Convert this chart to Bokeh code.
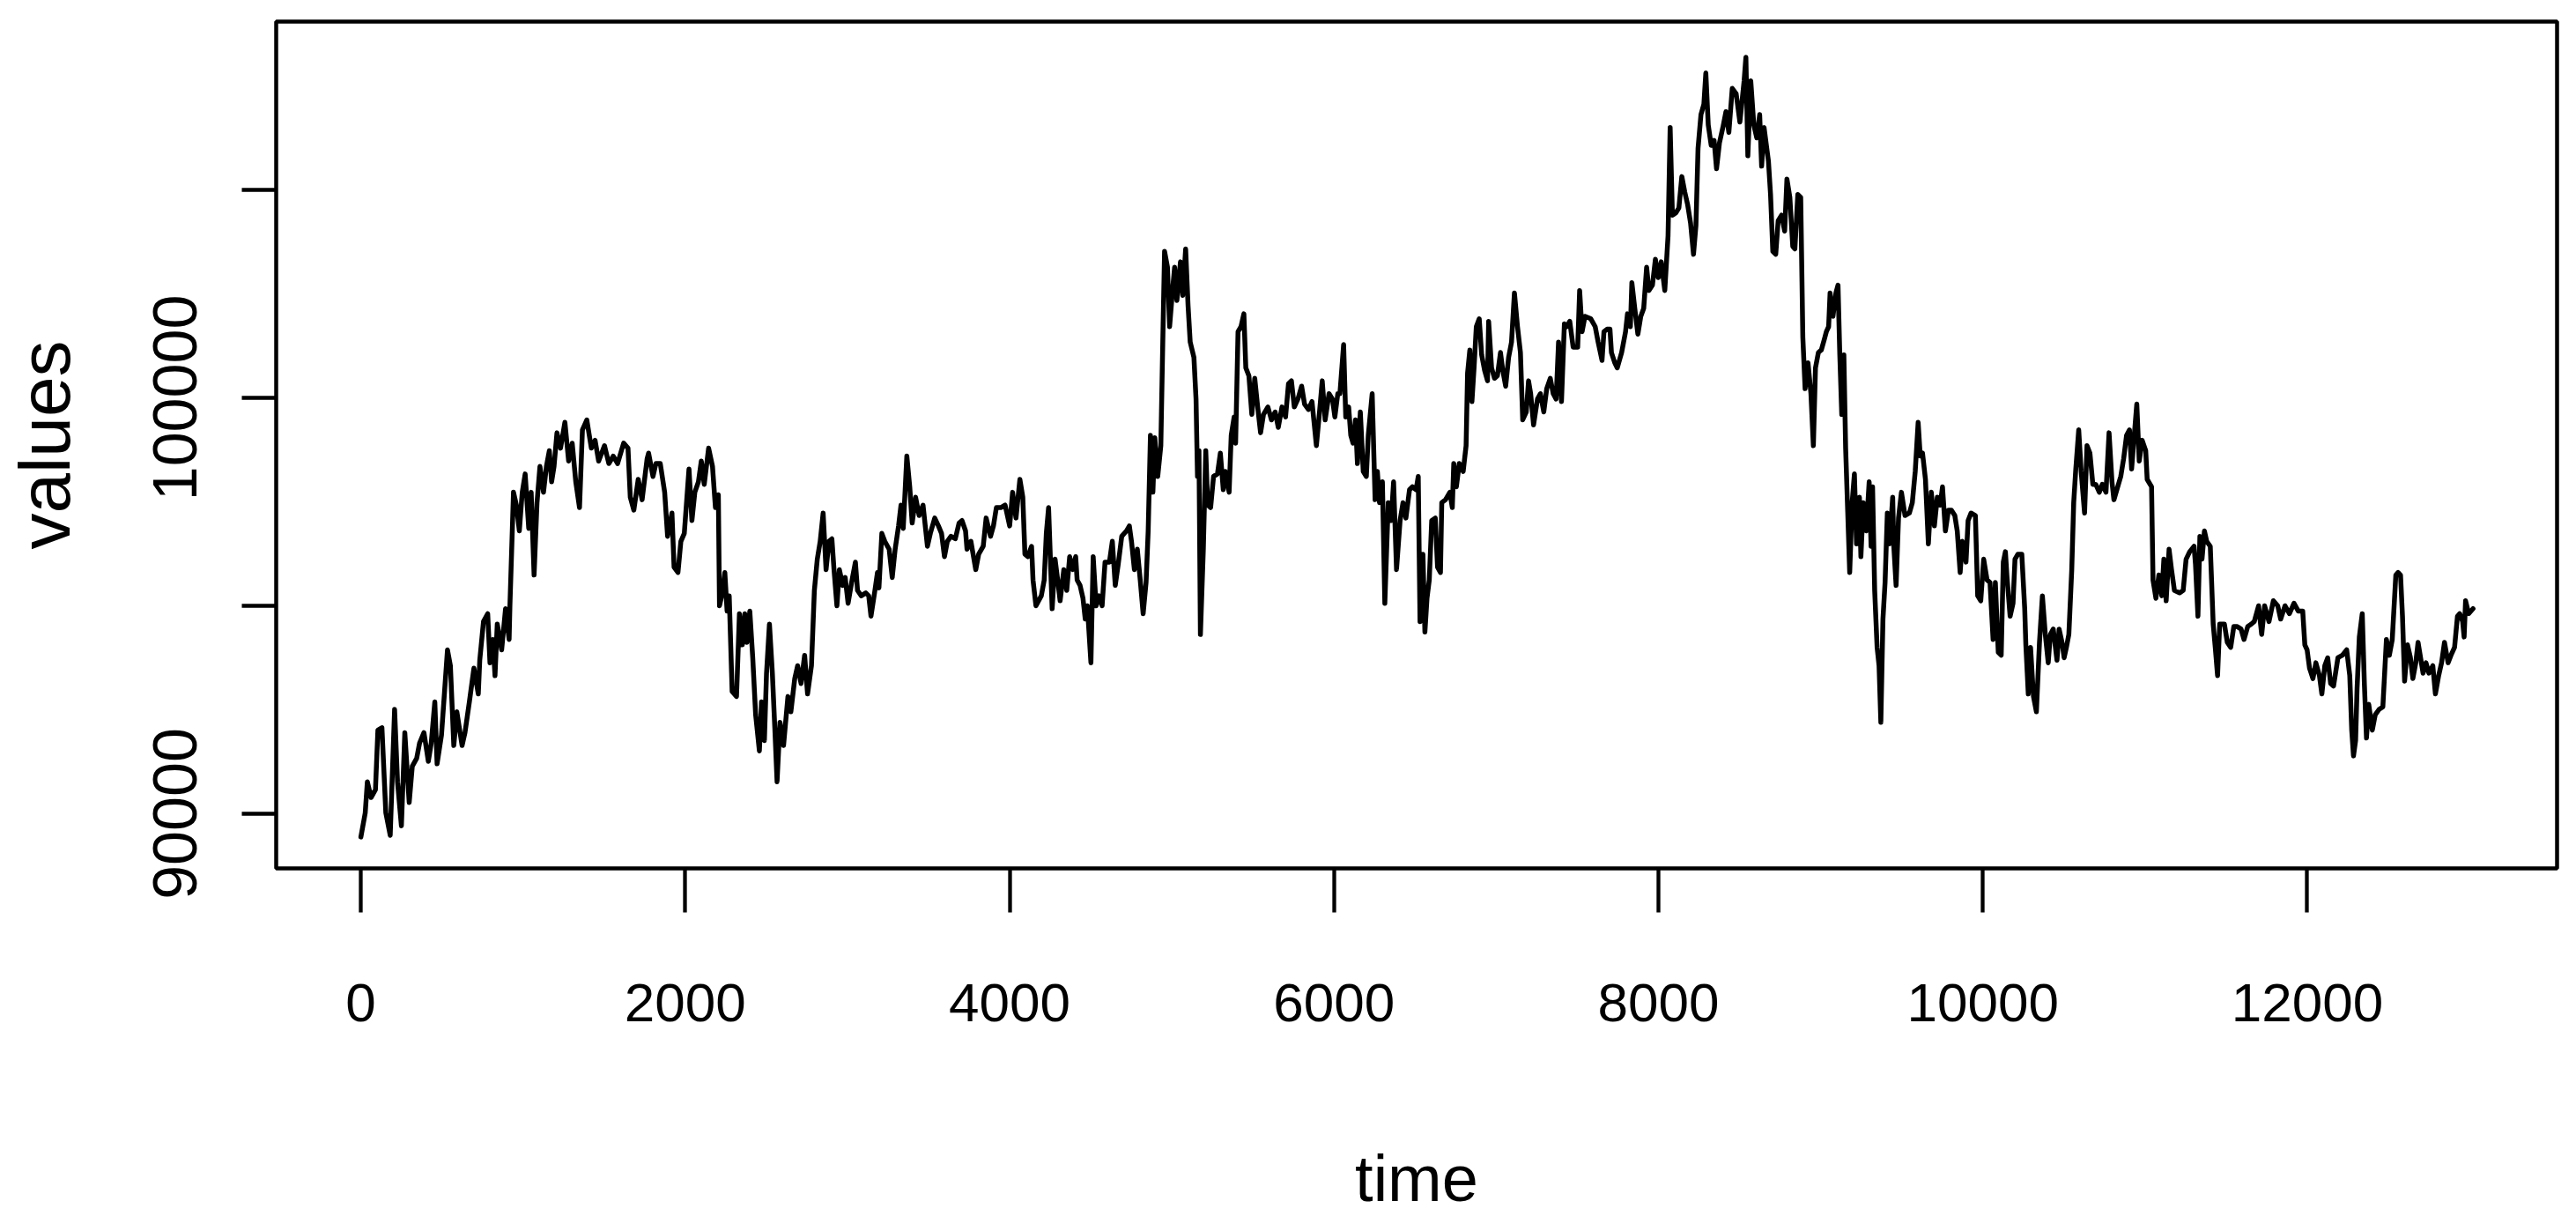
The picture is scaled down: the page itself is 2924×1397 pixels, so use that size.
from bokeh.plotting import figure
from bokeh.models import Range1d, FixedTicker
from bokeh.embed import file_html
from bokeh.resources import INLINE

# ---- data (time, value) ----
time_a = [0, 27, 40, 63, 90, 105, 130, 154, 181, 208,
          226, 250, 271, 298, 317, 344, 362, 389, 416, 434,
          456, 470, 497, 516, 534, 552, 573, 592, 624, 642,
          669, 697, 724, 733, 756, 782, 796, 814, 827, 841,
          868, 892, 914, 919, 932, 941, 959, 977, 995, 1013,
          1035, 1050, 1068, 1086, 1104, 1126, 1144, 1162, 1176, 1191,
          1209, 1231, 1258, 1281, 1303, 1325, 1348, 1366, 1393, 1421,
          1444, 1466, 1502, 1529, 1556, 1583, 1620, 1647, 1661, 1683,
          1710, 1734, 1765, 1774, 1801, 1819, 1846, 1873, 1891, 1918,
          1931, 1955, 1973, 1994, 2023, 2041, 2059, 2081]
value_a = [89440, 90020, 90770, 90390, 90580, 92010, 92070, 90020, 89480, 92510,
           90770, 89710, 91950, 90270, 91140, 91330, 91700, 91950, 91260, 91700,
           92690, 91200, 91890, 92940, 93940, 93560, 91640, 92450, 91640, 91950,
           92690, 93500, 92880, 93690, 94620, 94810, 93630, 94190, 93320, 94560,
           93940, 94930, 94190, 95000, 96610, 97730, 97420, 96800, 97730, 98170,
           96860, 97730, 95740, 97480, 98350, 97730, 98350, 98730, 97980, 98350,
           99160, 98790, 99410, 98480, 98910, 97980, 97360, 99230, 99470, 98790,
           98980, 98480, 98850, 98420, 98600, 98420, 98910, 98790, 97610, 97300,
           98040, 97550, 98540, 98670, 98110, 98420, 98420, 97730, 96670, 97230,
           95930, 95800, 96550, 96740, 98290, 97050, 97730, 97980]

time_b = [2099, 2117, 2144, 2168, 2186, 2204, 2211, 2229, 2244, 2258,
          2271, 2289, 2316, 2334, 2352, 2367, 2380, 2398, 2416, 2434,
          2457, 2470, 2488, 2501, 2519, 2537, 2552, 2566, 2584, 2606,
          2633, 2651, 2675, 2693, 2714, 2736, 2754, 2778, 2796, 2814,
          2832, 2850, 2868, 2886, 2904, 2917, 2935, 2950, 2971, 2986,
          3004, 3031, 3049, 3062, 3085, 3113, 3131, 3145, 3167, 3185,
          3194, 3212, 3230, 3257, 3276, 3294, 3315, 3330, 3344, 3366,
          3384, 3399, 3420, 3442, 3466, 3493, 3511, 3538, 3561, 3580,
          3598, 3616, 3638, 3665, 3688, 3706, 3728, 3737, 3761, 3791,
          3809, 3837, 3855, 3882, 3900, 3918, 3945, 3972, 4000, 4018,
          4039, 4063, 4081, 4094, 4112, 4135, 4144, 4162, 4195, 4213,
          4226, 4240, 4262, 4280, 4298, 4311]
value_b = [98480, 97920, 98790, 98350, 97360, 97670, 95000, 95310, 95800, 94870,
           95240, 92940, 92820, 94810, 94060, 94810, 94120, 94870, 93750, 92380,
           91510, 92690, 91760, 93380, 94560, 93380, 92070, 90770, 92200, 91640,
           92820, 92450, 93250, 93560, 93130, 93810, 92880, 93560, 95370, 96120,
           96550, 97230, 95870, 96550, 96610, 95870, 95000, 95870, 95490, 95680,
           95060, 95680, 96050, 95370, 95240, 95310, 95240, 94750, 95310, 95800,
           95430, 96740, 96550, 96360, 95680, 96360, 96920, 97420, 96860, 98600,
           97860, 96990, 97610, 97170, 97420, 96430, 96740, 97110, 96920, 96740,
           96180, 96550, 96670, 96610, 96990, 97050, 96800, 96360, 96550, 95870,
           96240, 96430, 97110, 96670, 96920, 97360, 97360, 97420, 96920, 97730,
           97110, 98040, 97610, 96240, 96180, 96430, 95620, 95000, 95240, 95620,
           96740, 97360, 94930, 96120, 95560, 95120]

time_c = [4334, 4352, 4370, 4389, 4407, 4416, 4434, 4452, 4466, 4479,
          4501, 4515, 4533, 4551, 4570, 4588, 4615, 4633, 4651, 4669,
          4691, 4720, 4738, 4751, 4769, 4787, 4805, 4823, 4841, 4854,
          4868, 4883, 4895, 4913, 4932, 4944, 4955, 4973, 4986, 5004,
          5017, 5031, 5053, 5067, 5085, 5100, 5113, 5136, 5149, 5158,
          5167, 5176, 5194, 5209, 5221, 5239, 5257, 5281, 5299, 5317,
          5330, 5353, 5366, 5384, 5393, 5408, 5426, 5444, 5456, 5475,
          5493, 5511, 5529, 5547, 5565, 5592, 5614, 5637, 5656, 5679,
          5701, 5719, 5737, 5755, 5777, 5800, 5818, 5842, 5864, 5891,
          5909, 5927, 5945, 5969, 5990, 6005, 6023, 6036, 6059, 6072,
          6090, 6103, 6117, 6132, 6144, 6162, 6180, 6199, 6211, 6235,
          6253, 6267, 6280, 6298, 6313, 6334, 6352, 6367, 6385, 6407,
          6425, 6443, 6465, 6483]
value_c = [95870, 95370, 96180, 95870, 96180, 95620, 95490, 95180, 94680, 95000,
           93630, 96180, 95000, 95240, 95000, 96050, 96050, 96550, 95490, 95990,
           96670, 96800, 96920, 96550, 95870, 96360, 95620, 94810, 95560, 96800,
           99100, 97730, 99040, 98110, 98850, 101340, 103520, 103140, 101710, 102580,
           103140, 102340, 103270, 102460, 103580, 102210, 101340, 100970, 99970, 98110,
           98730, 94310, 96360, 98730, 97420, 97360, 98110, 98170, 98670, 97790,
           98230, 97730, 99100, 99540, 98910, 101590, 101710, 102020, 100720, 100530,
           99600, 100470, 99780, 99160, 99600, 99780, 99470, 99660, 99290, 99780,
           99540, 100340, 100410, 99780, 99970, 100280, 99850, 99720, 99910, 98850,
           99600, 100410, 99470, 100100, 99970, 99540, 100100, 100100, 101280, 99540,
           99780, 99100, 98910, 99470, 98420, 99660, 98230, 98110, 99100, 100100,
           97550, 98230, 97480, 97980, 95060, 97480, 97050, 97980, 95870, 97050,
           97480, 97110, 97790, 97860]

time_d = [6506, 6519, 6530, 6548, 6560, 6573, 6587, 6602, 6624, 6638,
          6656, 6664, 6687, 6714, 6729, 6738, 6754, 6772, 6796, 6814,
          6823, 6837, 6850, 6863, 6877, 6895, 6910, 6928, 6946, 6953,
          6971, 6989, 7007, 7026, 7040, 7058, 7076, 7094, 7112, 7131,
          7149, 7163, 7185, 7199, 7212, 7230, 7254, 7272, 7293, 7311,
          7333, 7351, 7369, 7384, 7402, 7420, 7435, 7453, 7474, 7502,
          7514, 7529, 7547, 7583, 7610, 7628, 7652, 7664, 7683, 7701,
          7710, 7731, 7746, 7773, 7797, 7809, 7827, 7836, 7854, 7873,
          7891, 7909, 7927, 7941, 7963, 7981, 7999, 8017, 8039, 8059,
          8072, 8086, 8108, 8126, 8144, 8162, 8180, 8198, 8216, 8231,
          8244, 8262, 8280, 8292, 8307, 8325, 8343, 8358, 8376, 8397,
          8416, 8434, 8455, 8479, 8502, 8515, 8528, 8539, 8551, 8569,
          8588, 8606, 8624, 8636, 8651]
value_d = [97790, 98110, 94620, 96240, 94370, 95180, 95620, 97050, 97110, 95930,
           95800, 97480, 97550, 97730, 97360, 98420, 97860, 98420, 98230, 98850,
           100590, 101150, 99910, 100720, 101710, 101900, 101030, 100660, 100410, 101840,
           100720, 100470, 100530, 101090, 100660, 100280, 100970, 101340, 102520, 101710,
           101090, 99470, 99660, 100410, 100100, 99350, 99970, 100100, 99660, 100220,
           100470, 100100, 99970, 101340, 99910, 101780, 101710, 101840, 101220, 101220,
           102580, 101590, 101960, 101900, 101710, 101340, 100900, 101590, 101650, 101650,
           101090, 100840, 100720, 101090, 101590, 102020, 101710, 102770, 102150, 101530,
           101960, 102150, 103140, 102580, 102710, 103330, 102890, 103270, 102580, 103890,
           106500, 104390, 104450, 104570, 105320, 104950, 104640, 104200, 103450, 104140,
           106000, 106810, 107060, 107810, 106560, 106070, 106190, 105510, 106130, 106500,
           106880, 106380, 107440, 107310, 106630, 107120, 107620, 108190, 105820, 107620,
           106560, 106250, 106810, 105570, 106500]

time_e = [8678, 8691, 8705, 8723, 8738, 8759, 8778, 8792, 8810, 8828,
          8841, 8859, 8877, 8890, 8904, 8922, 8940, 8955, 8968, 8986,
          9004, 9022, 9035, 9049, 9058, 9076, 9094, 9107, 9118, 9130,
          9143, 9154, 9167, 9179, 9194, 9208, 9221, 9239, 9248, 9263,
          9281, 9299, 9311, 9320, 9333, 9348, 9360, 9371, 9384, 9397,
          9411, 9425, 9444, 9451, 9465, 9480, 9498, 9520, 9547, 9565,
          9583, 9601, 9614, 9628, 9646, 9664, 9682, 9701, 9719, 9737,
          9751, 9769, 9788, 9806, 9827, 9842, 9860, 9873, 9896, 9909,
          9927, 9954, 9968, 9987, 10005, 10026, 10044, 10063, 10077, 10095,
          10113, 10126, 10139, 10149, 10168, 10186, 10198, 10216, 10240, 10258,
          10265, 10280, 10294, 10312, 10330, 10349, 10367, 10385, 10403, 10416,
          10434, 10457, 10470, 10488, 10501, 10515, 10530, 10548, 10560, 10573,
          10591, 10606, 10627, 10642, 10660, 10678, 10696, 10718, 10736, 10759,
          10778, 10796, 10808]
value_e = [105690, 104890, 103520, 103450, 104260, 104390, 104010, 105260, 104820, 103640,
           103580, 104890, 104820, 101460, 100220, 100840, 100100, 98850, 100720, 101090,
           101150, 101400, 101590, 101710, 102520, 101960, 102520, 102710, 101030, 99600,
           101030, 98790, 97230, 95800, 97480, 98170, 96490, 97610, 96180, 97480,
           96800, 97980, 96430, 97860, 95370, 94000, 93560, 92200, 94680, 95560,
           97230, 96490, 97610, 96430, 95490, 97110, 97730, 97170, 97230, 97480,
           98230, 99410, 98600, 98670, 98040, 96490, 97730, 96920, 97610, 97420,
           97860, 96800, 97300, 97300, 97170, 96800, 95800, 96550, 96050, 97050,
           97230, 97170, 95240, 95120, 96120, 95620, 95560, 94190, 95560, 93880,
           93810, 96050, 96300, 95680, 94750, 95060, 96120, 96240, 96240, 94930,
           94060, 92880, 94000, 92820, 92450, 94120, 95240, 94310, 93630, 94310,
           94440, 93690, 94440, 94120, 93750, 94000, 94310, 95870, 97480, 98290,
           99230, 98230, 97230, 98850, 98670, 97920, 97920, 97730, 97920, 97730,
           99160, 97980, 97550]

time_f = [10850, 10868, 10886, 10904, 10917, 10931, 10949, 10964, 10982, 11004,
          11013, 11040, 11049, 11067, 11085, 11103, 11116, 11130, 11148, 11163,
          11181, 11212, 11235, 11253, 11275, 11302, 11311, 11326, 11338, 11351,
          11366, 11380, 11402, 11420, 11434, 11447, 11460, 11489, 11507, 11528,
          11547, 11568, 11592, 11610, 11633, 11655, 11673, 11700, 11719, 11737,
          11764, 11791, 11818, 11836, 11863, 11890, 11918, 11945, 11972, 11985,
          11999, 12014, 12035, 12053, 12075, 12090, 12108, 12126, 12144, 12162,
          12189, 12216, 12243, 12262, 12274, 12285, 12298, 12307, 12321, 12339,
          12352, 12365, 12379, 12401, 12419, 12443, 12466, 12488, 12506, 12524,
          12546, 12560, 12575, 12587, 12600, 12618, 12636, 12651, 12669, 12683,
          12701, 12714, 12732, 12750, 12774, 12790, 12810, 12828, 12846, 12868,
          12886, 12908, 12926, 12940, 12958, 12967, 12976, 12995, 13022]
value_f = [98110, 98540, 99100, 99230, 98290, 98980, 99850, 98480, 98980, 98730,
           98040, 97860, 95620, 95180, 95740, 95240, 96120, 95120, 96360, 95870,
           95370, 95310, 95370, 96120, 96300, 96430, 95990, 94750, 96670, 96120,
           96800, 96550, 96430, 94560, 93940, 93320, 94560, 94560, 94120, 94000,
           94500, 94500, 94440, 94190, 94500, 94560, 94620, 95000, 94310, 95000,
           94620, 95120, 95000, 94680, 95000, 94810, 95060, 94870, 94870, 94060,
           93940, 93500, 93250, 93630, 93320, 92880, 93560, 93750, 93130, 93070,
           93750, 93810, 93940, 93320, 92010, 91390, 91760, 93010, 94250, 94810,
           93130, 91820, 92630, 92010, 92380, 92510, 92570, 94190, 93810, 94190,
           95740, 95800, 95740, 94750, 93190, 94060, 93750, 93250, 93630, 94120,
           93690, 93380, 93630, 93380, 93560, 92880, 93320, 93630, 94120, 93630,
           93810, 94000, 94750, 94810, 94620, 94250, 95120, 94810, 94930]

x_ticks = [0, 2000, 4000, 6000, 8000, 10000, 12000]
y_ticks = [90000, 95000, 100000, 105000]
y_tick_labels = {90000: "90000", 95000: "", 100000: "100000", 105000: ""}

times = time_a + time_b + time_c + time_d + time_e + time_f
values = value_a + value_b + value_c + value_d + value_e + value_f

p = figure(width=2924, height=1397, output_backend="svg", toolbar_location=None,
           x_range=Range1d(-522, 13540), y_range=Range1d(88686, 109046),
           min_border_left=313, min_border_right=22, min_border_top=24,
           min_border_bottom=412)

p.line(times, values, line_color="black", line_width=5.5, line_join="round", line_cap="round")

p.grid.visible = False
p.background_fill_color = "white"
p.border_fill_color = "white"
p.outline_line_color = "black"
p.outline_line_width = 4.5

xa = p.xaxis[0]
xa.ticker = FixedTicker(ticks=x_ticks)
xa.axis_line_color = None
xa.major_tick_line_color = "black"
xa.major_tick_line_width = 4.3
xa.major_tick_in = 0
xa.major_tick_out = 50
xa.minor_tick_line_color = None
xa.major_label_text_font = "Liberation Sans"
xa.major_label_text_font_size = "62px"
xa.major_label_text_color = "black"
xa.major_label_standoff = 81
xa.axis_label = "time"
xa.axis_label_text_font = "Liberation Sans"
xa.axis_label_text_font_size = "74px"
xa.axis_label_text_font_style = "normal"
xa.axis_label_text_color = "black"
xa.axis_label_standoff = 134

ya = p.yaxis[0]
ya.ticker = FixedTicker(ticks=y_ticks)
ya.major_label_overrides = y_tick_labels
ya.axis_line_color = None
ya.major_tick_line_color = "black"
ya.major_tick_line_width = 4.3
ya.major_tick_in = 0
ya.major_tick_out = 39
ya.minor_tick_line_color = None
ya.major_label_orientation = "parallel"
ya.major_label_text_font = "Liberation Sans"
ya.major_label_text_font_size = "70px"
ya.major_label_text_color = "black"
ya.major_label_standoff = 51
ya.axis_label = "values"
ya.axis_label_text_font = "Liberation Sans"
ya.axis_label_text_font_size = "82px"
ya.axis_label_text_font_style = "normal"
ya.axis_label_text_color = "black"
ya.axis_label_standoff = 76

open("out.html", "w").write(file_html(p, INLINE))
